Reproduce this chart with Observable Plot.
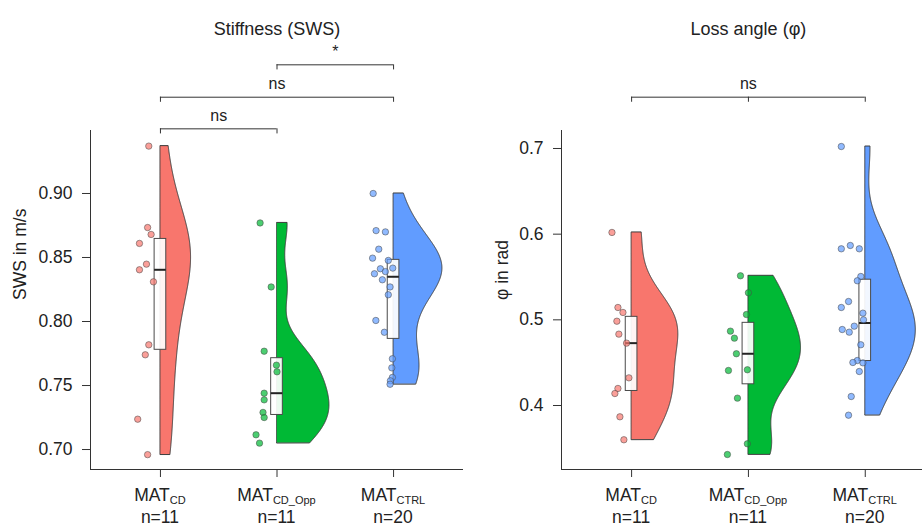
<!DOCTYPE html>
<html>
<head>
<meta charset="utf-8">
<script src="https://cdn.jsdelivr.net/npm/d3@7"></script>
<script src="https://cdn.jsdelivr.net/npm/@observablehq/plot@0.6"></script>
<style>
  html, body { margin: 0; padding: 0; background: #fff; overflow: hidden; }
  #wrap { display: flex; flex-direction: row; width: 922px; height: 527px; }
  svg { display: block; }
</style>
</head>
<body>
<div id="wrap"><div id="left"></div><div id="right"></div></div>
<script>
// ---------- data ----------
const groupSubs = ["CD", "CD_Opp", "CTRL"];
const groupColors = ["#F8766D", "#00B935", "#619CFF"];

// Stiffness (SWS, m/s)
const swsCD   = [0.937, 0.8734, 0.868, 0.861, 0.8448, 0.8404, 0.831, 0.7818, 0.774, 0.7237, 0.696];
const swsOpp  = [0.877, 0.827, 0.7768, 0.7659, 0.7607, 0.744, 0.7388, 0.729, 0.725, 0.7115, 0.705];
const swsCtrl = [0.90, 0.871, 0.870, 0.8565, 0.8495, 0.8477, 0.8412, 0.839, 0.8417, 0.8373, 0.8326, 0.827, 0.8209, 0.8008, 0.7916, 0.7709, 0.7638, 0.7563, 0.7537, 0.751];
// horizontal jitter of the raw points (category units), as read
const swsCDJit   = [-0.10, -0.11, -0.08, -0.18, -0.12, -0.18, -0.06, -0.10, -0.13, -0.195, -0.11];
const swsOppJit  = [-0.145, -0.05, -0.11, -0.005, 0, -0.11, -0.11, -0.12, -0.11, -0.18, -0.15];
const swsCtrlJit = [-0.175, -0.15, -0.07, -0.127, -0.18, -0.045, -0.113, -0.07, -0.007, -0.164, -0.096, -0.03, -0.045, -0.152, -0.079, -0.01, -0.015, -0.01, -0.027, -0.03];

// Loss angle (phi, rad)
const phiCD   = [0.602, 0.5144, 0.5086, 0.4984, 0.4833, 0.4728, 0.4323, 0.4199, 0.414, 0.3868, 0.36];
const phiOpp  = [0.5514, 0.5316, 0.5062, 0.4868, 0.4786, 0.4604, 0.4417, 0.4409, 0.4086, 0.3553, 0.3428];
const phiCtrl = [0.7023, 0.5829, 0.5868, 0.5829, 0.5506, 0.5456, 0.5214, 0.5144, 0.5078, 0.4926, 0.4887, 0.4856, 0.4709, 0.4525, 0.4502, 0.4498, 0.4397, 0.4105, 0.3887, 0.50];
const phiCDJit   = [-0.168, -0.117, -0.074, -0.126, -0.109, -0.043, -0.023, -0.117, -0.143, -0.10, -0.066];
const phiOppJit  = [-0.068, 0, -0.017, -0.154, -0.12, -0.103, -0.009, -0.171, -0.094, -0.009, -0.18];
const phiCtrlJit = [-0.205, -0.205, -0.128, -0.051, -0.038, -0.068, -0.143, -0.205, -0.02, -0.094, -0.197, -0.137, -0.038, -0.068, -0.106, -0.02, -0.051, -0.12, -0.143, -0.015];

// axis ticks
const swsTicks = [0.70, 0.75, 0.80, 0.85, 0.90];
const phiTicks = [0.4, 0.5, 0.6, 0.7];

// significance brackets: from group, to group, label, bracket height (data units)
const swsBrackets = [
  {from: 1, to: 2, label: "ns", y: 0.9505, extra: []},
  {from: 1, to: 3, label: "ns", y: 0.9752, extra: []},
  {from: 2, to: 3, label: "*",  y: 1.0005, extra: []}
];
const phiBrackets = [
  {from: 1, to: 3, label: "ns", y: 0.7599, extra: [2]}
];

// ---------- helpers ----------
function kde(values, n = 512) {
  const N = values.length;
  const s = values.slice().sort(d3.ascending);
  const sd = d3.deviation(s);
  const iqr = d3.quantile(s, 0.75) - d3.quantile(s, 0.25);
  const lo = Math.min(sd, iqr / 1.34) || sd;
  const bw = 0.9 * lo * Math.pow(N, -0.2);
  const [mn, mx] = d3.extent(s);
  const out = [];
  for (let i = 0; i < n; i++) {
    const y = mn + (mx - mn) * i / (n - 1);
    let acc = 0;
    for (const v of s) { const u = (y - v) / bw; acc += Math.exp(-0.5 * u * u); }
    out.push({y, d: acc / (N * bw * Math.sqrt(2 * Math.PI))});
  }
  return out;
}

function panel(cfg) {
  const {groups, jitters, title, ylabel, ticks, fmt, ydomain, xdomain, width, marginLeft, marginRight, brackets, ylabelDx} = cfg;
  const height = 527, marginTop = 130, marginBottom = 58;

  // violins (flat / half) scaled by area
  const dens = groups.map(g => kde(g));
  const dmax = d3.max(dens.flat(), d => d.d);
  const violin = [];
  dens.forEach((arr, gi) => arr.forEach(p => violin.push({g: gi, c: gi + 1, y: p.y, w: 0.45 * p.d / dmax})));

  // boxes
  const boxes = groups.map((g, gi) => {
    const s = g.slice().sort(d3.ascending);
    return {c: gi + 1, q1: d3.quantile(s, 0.25), med: d3.quantile(s, 0.5), q3: d3.quantile(s, 0.75)};
  });

  // points
  const pts = [];
  groups.forEach((g, gi) => g.forEach((v, i) => pts.push({g: gi, x: gi + 1 + jitters[gi][i], y: v})));

  const tip = 0.015 * (ydomain[1] - ydomain[0]);
  const tickSegs = [];
  brackets.forEach(b => [b.from, b.to, ...b.extra].forEach(x => tickSegs.push({x, y1: b.y - tip, y2: b.y})));

  const plot = Plot.plot({
    width, height, marginTop, marginBottom, marginLeft, marginRight,
    style: "font-family: 'Liberation Sans', Arial, sans-serif; font-size: 17.5px; background: #fff; color: #222;",
    x: {domain: xdomain, axis: null},
    y: {domain: ydomain, axis: null},
    marks: [
      Plot.areaX(violin, {y: "y", x1: "c", x2: d => d.c + d.w, z: "g", fill: d => groupColors[d.g], stroke: "#3c3c3c", strokeWidth: 1, curve: "linear"}),
      Plot.rect(boxes, {x1: d => d.c - 0.05, x2: d => d.c + 0.05, y1: "q1", y2: "q3", fill: "#fff", fillOpacity: 0.92, stroke: "#4a4a4a", strokeWidth: 1}),
      Plot.ruleY(boxes, {y: "med", x1: d => d.c - 0.05, x2: d => d.c + 0.05, stroke: "#222", strokeWidth: 2}),
      Plot.dot(pts, {x: "x", y: "y", r: 3.2, fill: d => groupColors[d.g], fillOpacity: 0.7, stroke: "#4a4a4a", strokeOpacity: 0.6, strokeWidth: 0.9}),
      Plot.ruleX([xdomain[0]], {stroke: "#333", strokeWidth: 1}),
      Plot.ruleY([ydomain[0]], {stroke: "#333", strokeWidth: 1}),
      Plot.axisY({ticks, tickFormat: fmt, tickSize: 8, tickPadding: 10, label: null, stroke: "#333", fill: "#222"}),
      Plot.axisX({ticks: [1, 2, 3], tickSize: 8, tickFormat: () => "", label: null, stroke: "#333"}),
      // brackets
      Plot.ruleY(brackets, {y: "y", x1: "from", x2: "to", stroke: "#333", strokeWidth: 1}),
      Plot.ruleX(tickSegs, {x: "x", y1: "y1", y2: "y2", stroke: "#333", strokeWidth: 1}),
      Plot.text(brackets, {x: d => (d.from + d.to) / 2, y: "y", text: "label", dy: -13, fontSize: 16, fill: "#222"}),
      // title and y label
      Plot.text([title], {x: () => 2, frameAnchor: "top", dy: -108, fontSize: 18, fill: "#222"}),
      Plot.text([ylabel], {frameAnchor: "left", rotate: -90, dx: ylabelDx, fontSize: 17.5, fill: "#222"})
    ]
  });

  // category labels with subscripts and n
  const sx = plot.scale("x");
  const svg = d3.select(plot);
  const lab = svg.append("g").attr("fill", "#222").attr("text-anchor", "middle").attr("font-size", 17.5);
  groups.forEach((g, gi) => {
    const cx = sx.apply(gi + 1);
    const t = lab.append("text").attr("x", cx).attr("y", height - marginBottom + 32);
    t.append("tspan").text("MAT");
    t.append("tspan").attr("font-size", 11).attr("dy", 3).text(groupSubs[gi]);
    t.append("tspan").attr("x", cx).attr("dy", 18.5).text("n=" + g.length);
  });
  return plot;
}

document.getElementById("left").append(panel({
  groups: [swsCD, swsOpp, swsCtrl],
  jitters: [swsCDJit, swsOppJit, swsCtrlJit],
  title: "Stiffness (SWS)",
  ylabel: "SWS in m/s",
  ticks: swsTicks,
  fmt: d3.format(".2f"),
  ydomain: [0.6844, 0.9492],
  xdomain: [0.4, 3.6],
  width: 475, marginLeft: 90, marginRight: 12,
  brackets: swsBrackets,
  ylabelDx: -70
}));

document.getElementById("right").append(panel({
  groups: [phiCD, phiOpp, phiCtrl],
  jitters: [phiCDJit, phiOppJit, phiCtrlJit],
  title: "Loss angle (φ)",
  ylabel: "φ in rad",
  ticks: phiTicks,
  fmt: d3.format(".1f"),
  ydomain: [0.3253, 0.721],
  xdomain: [0.4, 3.49],
  width: 447, marginLeft: 86, marginRight: 0,
  brackets: phiBrackets,
  ylabelDx: -59
}));
</script>
</body>
</html>
